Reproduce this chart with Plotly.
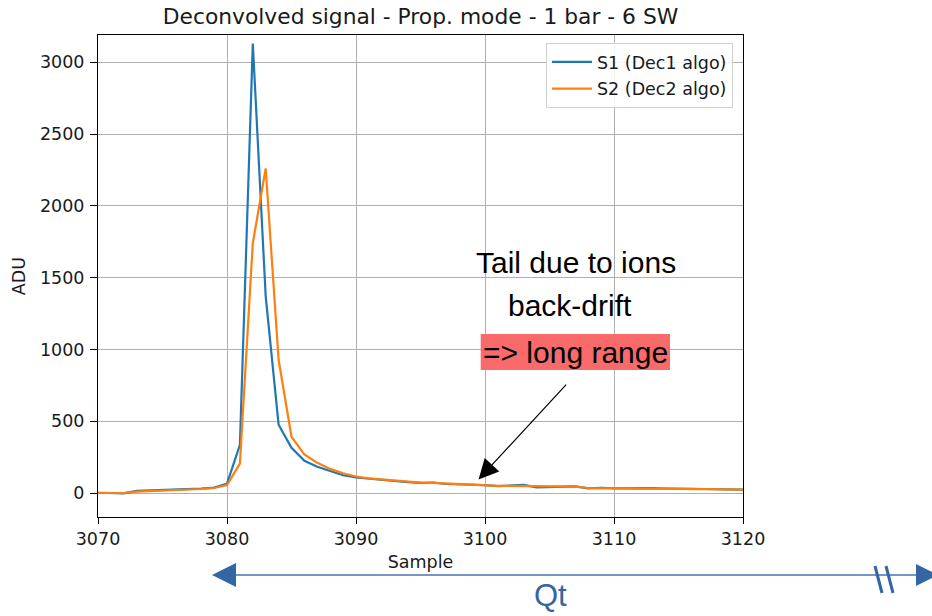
import plotly.graph_objects as go

# ---------------- data ----------------
samples = list(range(3070, 3121))
s1_dec1 = [2, 0, -3, 15, 17, 19, 22, 27, 30, 38,
           65, 335, 3130, 1370, 476, 315, 225, 183, 152, 124,
           108, 99, 92, 82, 76, 70, 72, 63, 62, 60,
           55, 48, 52, 57, 40, 41, 44, 46, 33, 36,
           33, 34, 30, 34, 31, 28, 29, 28, 26, 27, 23]
s2_dec2 = [0, 0, 0, 10, 13, 16, 20, 25, 28, 35,
           55, 205, 1740, 2260, 928, 392, 268, 210, 168, 138,
           115, 102, 94, 86, 78, 72, 70, 65, 62, 58,
           54, 50, 50, 49, 43, 42, 44, 45, 35, 36,
           34, 33, 31, 33, 30, 29, 28, 28, 27, 26, 24]
series_names = ["S1 (Dec1 algo)", "S2 (Dec2 algo)"]
series_colors = ["#1f77b4", "#ff7f0e"]
x_ticks = [3070, 3080, 3090, 3100, 3110, 3120]
y_ticks = [0, 500, 1000, 1500, 2000, 2500, 3000]
title_text = "Deconvolved signal - Prop. mode - 1 bar - 6 SW"

# ---------------- layout geometry (pixels) ----------------
W, H = 932, 616
L, R, T, B = 98, 743, 35, 517


def px(x):
    return (x - L) / (R - L)


def py(y):
    return (B - y) / (B - T)


MPL = "DejaVu Sans"
SLIDE = "Liberation Sans, Arial, sans-serif"
BLUE = "#3465a4"
TXT = "#1a1a1a"

fig = go.Figure()
for i, (vals, name, col) in enumerate(zip([s1_dec1, s2_dec2], series_names, series_colors)):
    fig.add_trace(go.Scatter(
        x=samples, y=vals, mode="lines", name=name,
        line=dict(color=col, width=2.2),
        legendgroup=f"g{i}",
    ))

axis_common = dict(
    showline=True, linecolor="black", linewidth=1, mirror=True,
    showgrid=True, gridcolor="#b0b0b0", gridwidth=1,
    ticks="outside", ticklen=6, tickcolor="black", tickwidth=1,
    zeroline=False,
    tickfont=dict(family=MPL, size=17.5, color=TXT),
)

fig.update_layout(
    width=W, height=H, autosize=False,
    margin=dict(l=L, r=W - R, t=T, b=H - B),
    paper_bgcolor="white", plot_bgcolor="white",
    title=dict(text=title_text, xref="paper", x=0.5, xanchor="center",
               y=1 - 16 / H, yanchor="middle",
               font=dict(family=MPL, size=21.8, color=TXT)),
    xaxis=dict(range=[3070, 3120], tickvals=x_ticks,
               title=dict(text="Sample", standoff=7,
                          font=dict(family=MPL, size=17.5, color=TXT)),
               **axis_common),
    yaxis=dict(range=[-167, 3190], tickvals=y_ticks, ticklabelstandoff=2,
               title=dict(text="ADU", standoff=9,
                          font=dict(family=MPL, size=17.5, color=TXT)),
               **{**axis_common, "ticklen": 7}),
    legend=dict(x=1 - 10 / (R - L), xanchor="right", y=1 - 8 / (B - T), yanchor="top",
                bgcolor="rgba(255,255,255,0.85)", bordercolor="#d0d0d0", borderwidth=1,
                font=dict(family=MPL, size=17.5, color=TXT),
                itemwidth=40, tracegroupgap=1),
    showlegend=True,
)

# ---------------- annotations on the chart ----------------
fig.add_shape(type="rect", xref="paper", yref="paper",
              x0=px(480.7), x1=px(670), y0=py(370), y1=py(334),
              fillcolor="#f96b6b", line=dict(width=0), layer="above")

for txt, cx, cy in [("Tail due to ions", 576, 262),
                    ("back-drift", 570, 305),
                    ("=&gt; long range", 575, 352)]:
    fig.add_annotation(text=txt, xref="paper", yref="paper", x=px(cx), y=py(cy),
                       xanchor="center", yanchor="middle", showarrow=False,
                       font=dict(family=SLIDE, size=30, color="black"))

fig.add_annotation(text="", x=3099.5, y=95, ax=3106.4, ay=765,
                   xref="x", yref="y", axref="x", ayref="y",
                   showarrow=True, arrowhead=2, arrowsize=3.3, arrowwidth=1.2,
                   arrowcolor="black", standoff=0)

# ---------------- bottom Qt range arrow ----------------
fig.add_shape(type="line", xref="paper", yref="paper",
              x0=px(234), x1=px(917), y0=py(575), y1=py(575),
              line=dict(color="#7596c6", width=2))
fig.add_shape(type="path", xref="paper", yref="paper",
              path=f"M {px(212)} {py(575)} L {px(236)} {py(563)} L {px(236)} {py(587)} Z",
              fillcolor=BLUE, line=dict(width=0))
fig.add_shape(type="path", xref="paper", yref="paper",
              path=f"M {px(938)} {py(575)} L {px(916)} {py(564)} L {px(916)} {py(586)} Z",
              fillcolor=BLUE, line=dict(width=0))
for x0 in (875, 886):
    fig.add_shape(type="line", xref="paper", yref="paper",
                  x0=px(x0), x1=px(x0 + 7), y0=py(566), y1=py(593),
                  line=dict(color=BLUE, width=3))
fig.add_annotation(text="Qt", xref="paper", yref="paper", x=px(550), y=py(615),
                   xanchor="center", yanchor="bottom", showarrow=False,
                   font=dict(family=SLIDE, size=31, color=BLUE))

fig.write_html("out.html")
